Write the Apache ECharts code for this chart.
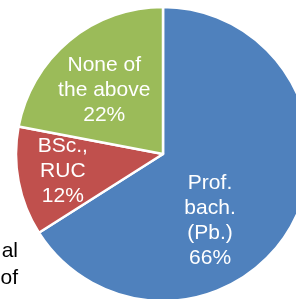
<!DOCTYPE html>
<html><head><meta charset="utf-8">
<script src="https://cdn.jsdelivr.net/npm/echarts@6/dist/echarts.min.js"></script>
<style>html,body{margin:0;padding:0;background:#fff}#c{width:296px;height:299px}</style>
</head><body><div id="c"></div>
<script>
const categories = ['Prof.\nbach.\n(Pb.)', 'BSc.,\nRUC', 'None of\nthe above'];
const values = [66, 12, 22];
const colors = ['#4F81BD', '#C0504D', '#9BBB59'];
const sideText = ['al', 'of'];

const labelShift = [[-20, 30], [-25, 3], [-10, -5]];

const chart = echarts.init(document.getElementById('c'));
chart.setOption({
  animation: false,
  graphic: [{
    type: 'text', x: 18, y: 238,
    style: { text: sideText.join('\n'), align: 'right', fill: '#000', font: '21px "Liberation Sans", Arial, sans-serif', lineHeight: 27 }
  }],
  series: [{
    type: 'pie',
    center: [163, 154],
    radius: [0, 147],
    startAngle: 90,
    clockwise: true,
    data: categories.map((c, i) => ({ name: c, value: values[i], itemStyle: { color: colors[i] } })),
    itemStyle: { borderColor: '#fff', borderWidth: 2.5 },
    label: {
      position: 'inside',
      formatter: p => p.name + '\n' + p.value + '%',
      color: '#fff',
      fontFamily: '"Liberation Sans", Arial, sans-serif',
      fontSize: 21,
      lineHeight: 25,
      align: 'center'
    },
    labelLine: { show: false },
    labelLayout: p => ({ dx: labelShift[p.dataIndex][0], dy: labelShift[p.dataIndex][1] })
  }]
});
</script></body></html>
